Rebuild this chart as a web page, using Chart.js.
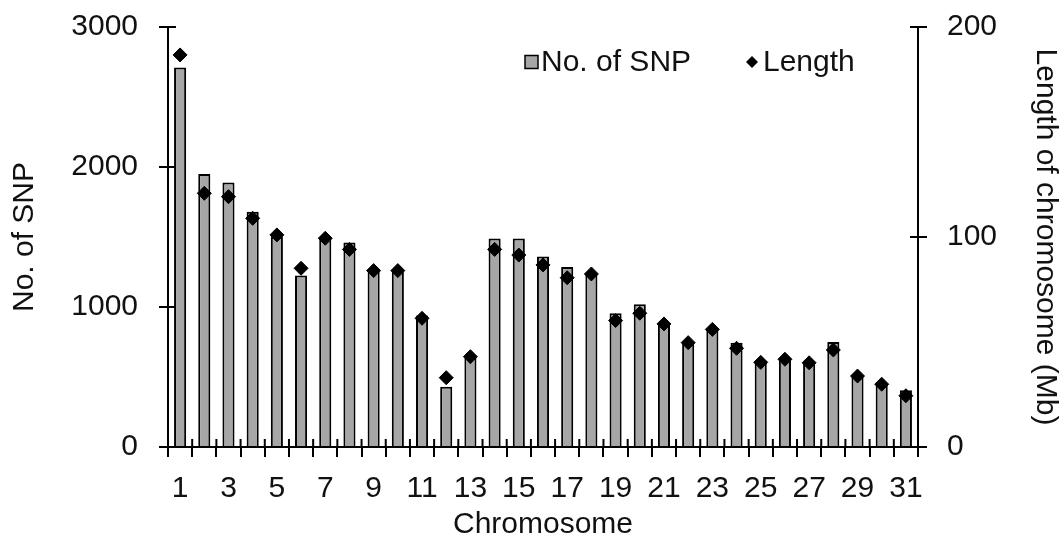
<!DOCTYPE html>
<html lang="en">
<head>
<meta charset="UTF-8" />
<title>SNP per chromosome</title>
<script src="https://cdn.jsdelivr.net/npm/chart.js"></script>
<style>
  body { margin: 0; background: #fff; }
  #wrap { width: 1063px; height: 542px; }
</style>
</head>
<body>
<div id="wrap"><canvas id="snpChart"></canvas></div>
<script>
  // Chromosomes 1..31
  const chromosomes = ['1','2','3','4','5','6','7','8','9','10','11','12','13','14','15','16',
    '17','18','19','20','21','22','23','24','25','26','27','28','29','30','31'];

  // number of SNPs on each chromosome (left axis)
  const snpCount = [2710, 1950, 1890, 1680, 1500, 1225, 1490, 1460, 1255, 1255, 940, 430, 640,
    1490, 1490, 1360, 1285, 1230, 955, 1020, 880, 755, 840, 745, 600, 630, 600, 750, 505, 455, 405];

  // chromosome length in Mb (right axis)
  const lengthMb = [186.7, 120.8, 119.2, 108.9, 101.0, 85.1, 99.4, 94.1, 84.0, 84.0, 61.3, 33.0, 43.0,
    94.1, 91.4, 86.7, 80.6, 82.4, 60.2, 63.7, 58.6, 49.7, 56.0, 47.0, 40.3, 41.8, 40.1, 46.2, 33.8, 29.9, 24.4];

  // axis ranges: [min, max, step]
  const snpAxis = [0, 3000, 1000];
  const lengthAxis = [0, 200, 100];

  const FONT = '"Liberation Sans", Arial, sans-serif';
  const INK = '#111';
  const BAR_GRAY = '#a6a6a6';

  Chart.defaults.font.family = FONT;
  Chart.defaults.font.size = 30;
  Chart.defaults.color = INK;

  // short tick marks pointing into the plot, so every tick crosses its axis
  const crossTicks = {
    id: 'crossTicks',
    afterDraw(chart) {
      const ctx = chart.ctx;
      const len = 8;
      ctx.save();
      ctx.strokeStyle = '#000';
      ctx.lineWidth = 2;
      ctx.beginPath();
      const y = chart.scales.y, y1 = chart.scales.y1, x = chart.scales.x;
      y.ticks.forEach(t => {
        const py = y.getPixelForValue(t.value);
        ctx.moveTo(y.right, py); ctx.lineTo(y.right + len, py);
      });
      y1.ticks.forEach(t => {
        const py = y1.getPixelForValue(t.value);
        ctx.moveTo(y1.left - len, py); ctx.lineTo(y1.left, py);
      });
      const n = chart.data.labels.length;
      for (let i = 0; i <= n; i++) {
        const px = x.left + i * x.width / n;
        ctx.moveTo(px, x.top - len); ctx.lineTo(px, x.top);
      }
      ctx.stroke();
      ctx.restore();
    }
  };

  // legend inside the top right of the plot
  const legendBox = {
    id: 'legendBox',
    afterDraw(chart) {
      const ctx = chart.ctx;
      const bars = chart.data.datasets[0];
      const pts = chart.data.datasets[1];
      const cy = 62;
      ctx.save();
      ctx.font = '30px ' + FONT;
      ctx.textBaseline = 'middle';

      ctx.fillStyle = bars.backgroundColor;
      ctx.fillRect(525, cy - 6.5, 13, 13);
      ctx.strokeStyle = '#000';
      ctx.lineWidth = 1.5;
      ctx.strokeRect(525, cy - 6.5, 13, 13);
      ctx.fillStyle = INK;
      ctx.fillText(bars.label, 541, cy + 1);

      ctx.beginPath();
      ctx.moveTo(752, cy - 6); ctx.lineTo(758, cy); ctx.lineTo(752, cy + 6); ctx.lineTo(746, cy);
      ctx.closePath();
      ctx.fillStyle = pts.backgroundColor;
      ctx.fill();
      ctx.fillStyle = INK;
      ctx.fillText(pts.label, 763, cy + 1);
      ctx.restore();
    }
  };

  const plain = v => String(v);

  // fixed axis widths; tick padding should not push the plot down
  const fitY = w => s => { s.width = w; s.paddingTop = 0; s.paddingBottom = 0; };

  new Chart(document.getElementById('snpChart'), {
    data: {
      labels: chromosomes,
      datasets: [
        {
          type: 'bar',
          label: 'No. of SNP',
          data: snpCount,
          yAxisID: 'y',
          backgroundColor: BAR_GRAY,
          borderColor: '#000',
          borderWidth: 2,
          borderSkipped: 'bottom',
          categoryPercentage: 1,
          barPercentage: 0.5,
          order: 2
        },
        {
          type: 'line',
          label: 'Length',
          data: lengthMb,
          yAxisID: 'y1',
          showLine: false,
          pointStyle: 'rectRot',
          pointRadius: 7,
          backgroundColor: '#000',
          borderColor: '#000',
          borderWidth: 1,
          order: 1
        }
      ]
    },
    options: {
      responsive: true,
      maintainAspectRatio: false,
      animation: false,
      layout: { padding: { top: 27, left: 0, right: 0, bottom: 0 } },
      plugins: {
        legend: { display: false },
        tooltip: { enabled: false }
      },
      scales: {
        x: {
          type: 'category',
          offset: true,
          grid: { offset: true, drawOnChartArea: false, color: '#000', lineWidth: 2, tickLength: 10 },
          border: { color: '#000', width: 2 },
          ticks: {
            autoSkip: false,
            maxRotation: 0,
            padding: 14,
            callback: (v, i) => (i % 2 === 0 ? chromosomes[i] : '')
          },
          title: { display: true, text: 'Chromosome', font: { lineHeight: 1 }, padding: { top: 0, bottom: 2 } },
          afterFit: s => { s.height = 95; }
        },
        y: {
          position: 'left',
          min: snpAxis[0],
          max: snpAxis[1],
          grid: { drawOnChartArea: false, color: '#000', lineWidth: 2, tickLength: 9 },
          border: { color: '#000', width: 2 },
          ticks: { stepSize: snpAxis[2], padding: 21, callback: plain },
          title: { display: true, text: 'No. of SNP', font: { lineHeight: 1 }, padding: { top: 10 } },
          afterFit: fitY(168)
        },
        y1: {
          position: 'right',
          min: lengthAxis[0],
          max: lengthAxis[1],
          grid: { drawOnChartArea: false, color: '#000', lineWidth: 2, tickLength: 9 },
          border: { color: '#000', width: 2 },
          ticks: { stepSize: lengthAxis[2], padding: 20, callback: plain },
          title: { display: true, text: 'Length of chromosome (Mb)', font: { lineHeight: 1 }, padding: { top: 3 } },
          afterFit: fitY(145)
        }
      }
    },
    plugins: [crossTicks, legendBox]
  });
</script>
</body>
</html>
